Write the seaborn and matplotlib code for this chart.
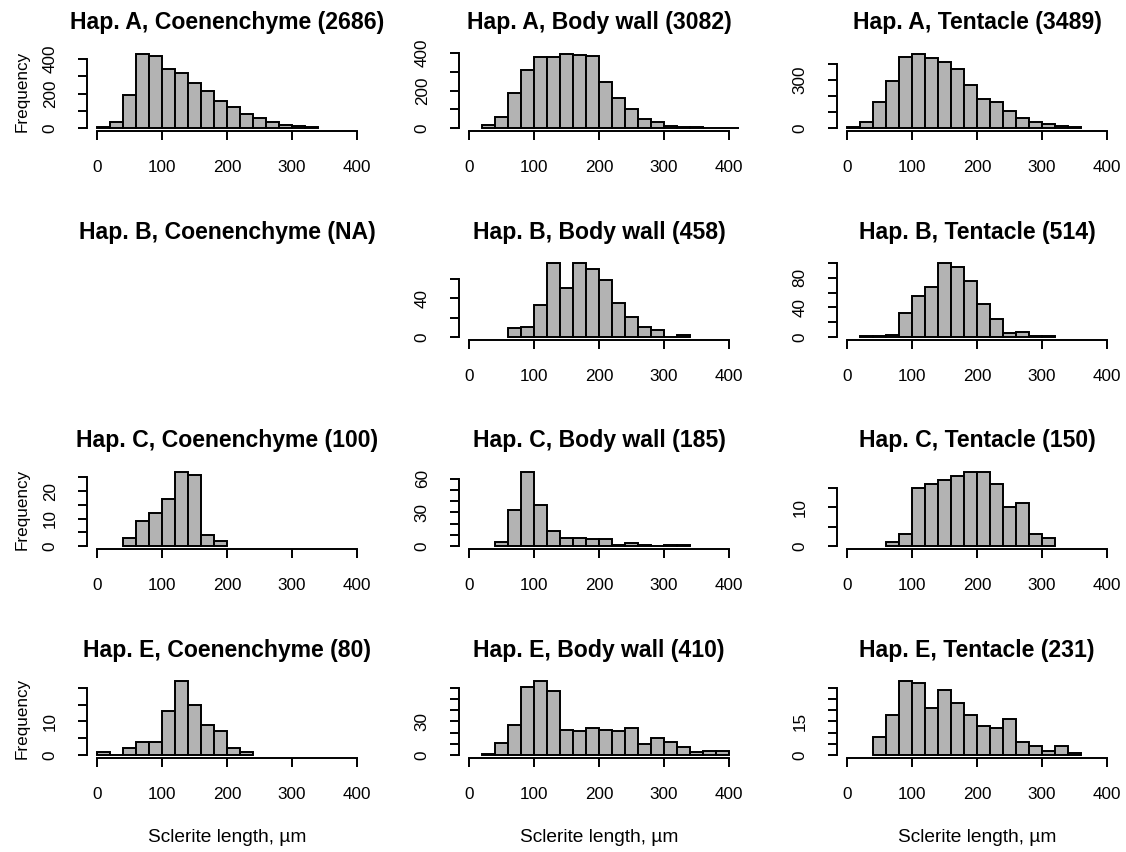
import numpy as np
import pandas as pd
import matplotlib
matplotlib.use("Agg")
import matplotlib.pyplot as plt
import seaborn as sns

sns.set_style("ticks")
plt.rcParams["font.family"] = ["Liberation Sans", "DejaVu Sans"]
plt.rcParams["text.color"] = "black"
plt.rcParams["axes.labelcolor"] = "black"
plt.rcParams["xtick.color"] = "black"
plt.rcParams["ytick.color"] = "black"

# ---------------- data (counts per 20-µm bin, bins 0-20, 20-40, ..., 400-420) ----------------
bin_edges = list(range(0, 440, 20))

a_coen = [8, 33, 190, 429, 419, 341, 320, 262, 213, 159, 122, 83, 56, 33, 16, 10, 5, 0, 0, 0, 0]
a_body = [0, 14, 57, 189, 309, 377, 377, 395, 388, 382, 243, 161, 102, 48, 30, 11, 7, 4, 2, 2, 2]
a_tent = [6, 36, 165, 291, 446, 463, 438, 410, 366, 270, 184, 163, 109, 65, 36, 25, 13, 6, 0, 0, 0]
b_body = [0, 0, 0, 9, 10, 33, 76, 50, 76, 70, 59, 35, 21, 10, 7, 0, 2, 0, 0, 0, 0]
b_tent = [0, 1, 1, 3, 32, 55, 67, 100, 95, 76, 44, 25, 6, 7, 1, 1, 0, 0, 0, 0, 0]
c_coen = [0, 0, 3, 9, 12, 17, 27, 26, 4, 2, 0, 0, 0, 0, 0, 0, 0, 0, 0, 0, 0]
c_body = [0, 0, 4, 32, 66, 37, 13, 7, 7, 6, 6, 1, 3, 1, 0, 1, 1, 0, 0, 0, 0]
c_tent = [0, 0, 0, 1, 3, 15, 16, 17, 18, 19, 19, 16, 10, 11, 3, 2, 0, 0, 0, 0, 0]
e_coen = [1, 0, 2, 4, 4, 13, 22, 15, 9, 7, 2, 1, 0, 0, 0, 0, 0, 0, 0, 0, 0]
e_body = [0, 1, 11, 27, 61, 66, 57, 22, 21, 24, 22, 21, 24, 10, 15, 12, 7, 3, 4, 4, 0]
e_tent = [0, 0, 8, 18, 33, 32, 21, 29, 23, 18, 13, 12, 16, 6, 4, 2, 4, 1, 0, 0, 0]

titles = [
    ["Hap. A, Coenenchyme (2686)", "Hap. A, Body wall (3082)", "Hap. A, Tentacle (3489)"],
    ["Hap. B, Coenenchyme (NA)", "Hap. B, Body wall (458)", "Hap. B, Tentacle (514)"],
    ["Hap. C, Coenenchyme (100)", "Hap. C, Body wall (185)", "Hap. C, Tentacle (150)"],
    ["Hap. E, Coenenchyme (80)", "Hap. E, Body wall (410)", "Hap. E, Tentacle (231)"],
]
panel_counts = [
    [a_coen, a_body, a_tent],
    [None, b_body, b_tent],
    [c_coen, c_body, c_tent],
    [e_coen, e_body, e_tent],
]
# y tick positions and which of them carry a label
y_ticks = [
    [[0, 100, 200, 300, 400], [0, 100, 200, 300, 400], [0, 100, 200, 300, 400]],
    [None, [0, 20, 40, 60], [0, 20, 40, 60, 80, 100]],
    [[0, 5, 10, 15, 20, 25], [0, 10, 20, 30, 40, 50, 60], [0, 5, 10, 15]],
    [[0, 5, 10, 15, 20], [0, 10, 20, 30, 40, 50, 60], [0, 5, 10, 15, 20, 25, 30]],
]
y_labels = [
    [[0, 200, 400], [0, 200, 400], [0, 300]],
    [None, [0, 40], [0, 40, 80]],
    [[0, 10, 20], [0, 30, 60], [0, 10]],
    [[0, 10], [0, 30], [0, 15]],
]
x_ticks = [0, 100, 200, 300, 400]
x_label = "Sclerite length, µm"
y_label = "Frequency"

# ---------------- layout ----------------
W, H = 1126, 852
fig = plt.figure(figsize=(W / 100, H / 100), dpi=100)
col_left = [86.6, 458.6, 836.6]
ax_w = 280.8
row_bottom = [131, 340, 549, 758]
ax_h = 80

fill = "#B3B3B3"
lw = 1.4

for r in range(4):
    for c in range(3):
        ax = fig.add_axes([col_left[c] / W, 1 - row_bottom[r] / H, ax_w / W, ax_h / H])
        ax.text(0.5, 1 + 28 / ax_h, titles[r][c], transform=ax.transAxes,
                ha="center", va="center", fontsize=16.6, fontweight="bold", color="black")
        counts = panel_counts[r][c]
        if counts is None:
            ax.axis("off")
            continue
        nz = [i for i, v in enumerate(counts) if v > 0]
        i0, i1 = nz[0], nz[-1] + 1
        edges = [float(e) for e in bin_edges[i0:i1 + 1]]
        cts = [float(v) for v in counts[i0:i1]]
        centers = [(edges[k] + edges[k + 1]) / 2 for k in range(len(cts))]
        df = pd.DataFrame({"x": centers, "w": cts})
        sns.histplot(data=df, x="x", weights="w", bins=edges, ax=ax,
                     color=fill, edgecolor="black", linewidth=lw, alpha=1.0)
        ymax = max(cts)
        ax.set_xlim(-16, 416)
        ax.set_ylim(-0.04 * ymax, 1.04 * ymax)
        for s in ["top", "right"]:
            ax.spines[s].set_visible(False)
        for s in ["left", "bottom"]:
            ax.spines[s].set_linewidth(lw)
            ax.spines[s].set_color("black")
        yt = y_ticks[r][c]
        ax.spines["left"].set_bounds(yt[0], yt[-1])
        ax.spines["bottom"].set_bounds(0, 400)
        ax.set_xticks(x_ticks)
        ax.set_xticklabels([str(t) for t in x_ticks])
        ax.set_yticks(yt)
        ax.set_yticklabels([str(t) if t in y_labels[r][c] else "" for t in yt],
                           rotation=90, va="center")
        ax.tick_params(axis="both", which="major", direction="out", length=6.8, width=lw,
                       pad=14, labelsize=12.3, colors="black",
                       bottom=True, left=True, top=False, right=False)
        ax.set_xlabel("")
        ax.set_ylabel("")
        if c == 0:
            ax.set_ylabel(y_label, fontsize=12.3, color="black")
            ax.yaxis.set_label_coords((22 - col_left[0]) / ax_w, 0.5)
            ax.yaxis.label.set_va("center")
        if r == 3:
            ax.set_xlabel(x_label, fontsize=13.8, color="black")
            ax.xaxis.set_label_coords(0.5, -80 / ax_h)
            ax.xaxis.label.set_va("center")
        ax.set_facecolor("white")

fig.savefig("out.png", dpi=100, facecolor="white")
